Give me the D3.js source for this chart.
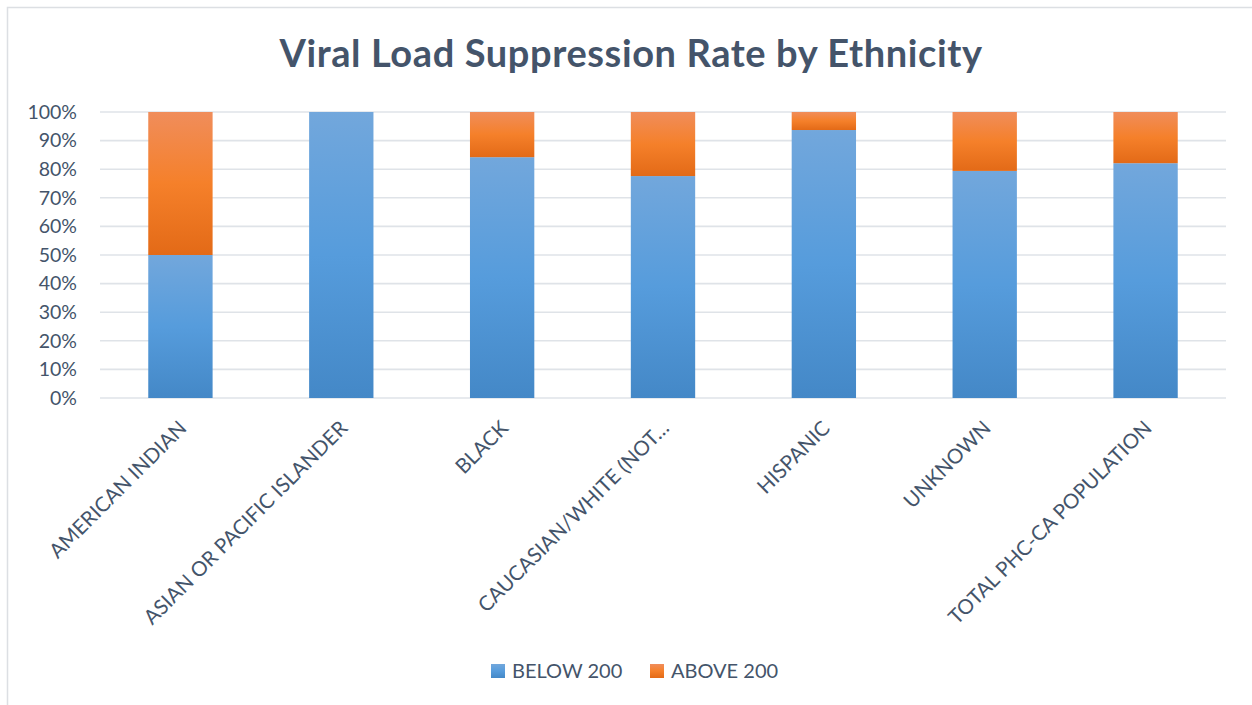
<!DOCTYPE html>
<html>
<head>
<meta charset="utf-8">
<script src="https://cdn.jsdelivr.net/npm/d3@7"></script>
<style>
  html, body { margin: 0; padding: 0; background: #ffffff; }
  svg { display: block; }
  text { font-family: Lato, "Open Sans", sans-serif; }
</style>
</head>
<body>
<svg id="chart" width="1252" height="705"></svg>
<script>
// Viral load suppression share by ethnicity (percent of patients)
const categories = [
  "AMERICAN INDIAN",
  "ASIAN OR PACIFIC ISLANDER",
  "BLACK",
  "CAUCASIAN/WHITE (NOT…",
  "HISPANIC",
  "UNKNOWN",
  "TOTAL PHC-CA POPULATION"
];
const below200 = [50, 100, 84.2, 77.6, 93.7, 79.4, 82.1];
const above200 = [50, 0, 15.8, 22.4, 6.3, 20.6, 17.9];
const seriesNames = ["BELOW 200", "ABOVE 200"];
const yTicks = [0, 10, 20, 30, 40, 50, 60, 70, 80, 90, 100];

const textColor = "#44546a";
const gridColor = "#dfe3e8";

const svg = d3.select("#chart");
const W = 1252, H = 705;
const plot = { left: 100, right: 1226, top: 112, bottom: 398 };

// Chart frame (only top and left edges fall inside the window)
svg.append("rect")
  .attr("x", 7.5).attr("y", 7.5)
  .attr("width", W + 20).attr("height", H + 20)
  .attr("fill", "#ffffff")
  .attr("stroke", "#dcdfe3").attr("stroke-width", 1.5);

// Vertical gradients, one per series, applied per segment
const defs = svg.append("defs");
function gradient(id, stops) {
  const g = defs.append("linearGradient")
    .attr("id", id).attr("x1", 0).attr("y1", 0).attr("x2", 0).attr("y2", 1);
  stops.forEach(([o, c]) => g.append("stop").attr("offset", o).attr("stop-color", c));
}
gradient("gBlue", [[0, "#72a7dc"], [0.5, "#569cdc"], [1, "#4488c7"]]);
gradient("gOrange", [[0, "#f08d5b"], [0.5, "#f5802a"], [1, "#e36a17"]]);
const fills = ["url(#gBlue)", "url(#gOrange)"];

// Title
svg.append("text")
  .attr("x", 631).attr("y", 67)
  .attr("text-anchor", "middle")
  .attr("font-size", 38).attr("font-weight", 700)
  .attr("letter-spacing", 0.6)
  .attr("fill", textColor)
  .text("Viral Load Suppression Rate by Ethnicity");

// Scales
const x = d3.scaleBand()
  .domain(categories)
  .range([plot.left, plot.right])
  .paddingInner(0.6).paddingOuter(0.3);
const y = d3.scaleLinear().domain([0, 100]).range([plot.bottom, plot.top]);

// Horizontal gridlines
svg.append("g").selectAll("line").data(yTicks).join("line")
  .attr("x1", plot.left).attr("x2", plot.right)
  .attr("y1", d => y(d)).attr("y2", d => y(d))
  .attr("stroke", gridColor).attr("stroke-width", 1.6);

// Y axis labels
const yAxis = d3.axisLeft(y).tickValues(yTicks).tickFormat(d => d + "%").tickSize(0).tickPadding(0);
const yg = svg.append("g").attr("transform", `translate(${plot.left - 23},0)`).call(yAxis);
yg.select(".domain").remove();
yg.selectAll("text")
  .attr("font-family", "Lato, sans-serif")
  .attr("font-size", 19.5).attr("fill", textColor);

// Stacked bars
const rows = categories.map((c, i) => ({ cat: c, below: below200[i], above: above200[i] }));
const stack = d3.stack().keys(["below", "above"]);
const layers = stack(rows);
svg.append("g").selectAll("g").data(layers).join("g")
  .attr("fill", (d, i) => fills[i])
  .selectAll("rect").data(d => d).join("rect")
  .attr("x", d => x(d.data.cat))
  .attr("width", x.bandwidth())
  .attr("y", d => y(d[1]))
  .attr("height", d => y(d[0]) - y(d[1]));

// Category labels, rotated -45°
const xAxis = d3.axisBottom(x).tickSize(0).tickPadding(0);
const xg = svg.append("g").attr("transform", `translate(0,${plot.bottom})`).call(xAxis);
xg.select(".domain").remove();
xg.selectAll("text")
  .attr("font-family", "Lato, sans-serif")
  .attr("font-size", 20.5).attr("fill", textColor)
  .attr("text-anchor", "end")
  .attr("y", 0).attr("dy", "0.72em")
  .attr("transform", "translate(-3,21) rotate(-45)");

// Legend
const legend = svg.append("g");
const legendX = [491, 650];
seriesNames.forEach((name, i) => {
  const g = legend.append("g").attr("transform", `translate(${legendX[i]},664)`);
  g.append("rect").attr("width", 14).attr("height", 14).attr("fill", fills[i]);
  g.append("text").attr("x", 21).attr("y", 13.5)
    .attr("font-size", 20).attr("fill", textColor).text(name);
});
</script>
</body>
</html>
